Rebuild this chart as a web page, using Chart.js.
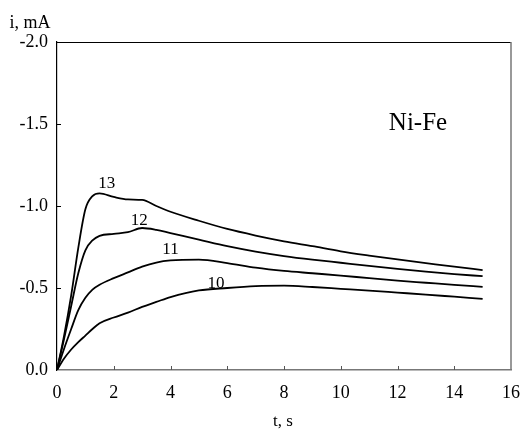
<!DOCTYPE html>
<html>
<head>
<meta charset="utf-8">
<script src="https://cdn.jsdelivr.net/npm/chart.js@4/dist/chart.umd.min.js"></script>
<style>
  html, body { margin: 0; padding: 0; background: #fff; }
  #wrap { width: 524px; height: 430px; }
</style>
</head>
<body>
<div id="wrap"><canvas id="chart" width="524" height="430"></canvas></div>
<script>
// time, s
const times = [0, 0.25, 0.5, 0.75, 1, 1.25, 1.5, 2, 2.5, 3, 3.5, 4, 5, 6, 7, 8, 9, 10, 11, 12, 13, 14, 15];

// current, mA (curves 10..13)
const curve10 = [0, -0.07, -0.125, -0.17, -0.21, -0.25, -0.285, -0.32, -0.35, -0.385, -0.415, -0.445, -0.485, -0.5, -0.511, -0.514, -0.506, -0.495, -0.484, -0.472, -0.46, -0.447, -0.434];
const curve11 = [0, -0.13, -0.25, -0.365, -0.44, -0.49, -0.52, -0.56, -0.595, -0.63, -0.655, -0.668, -0.673, -0.652, -0.624, -0.604, -0.59, -0.576, -0.56, -0.545, -0.532, -0.519, -0.507];
const curve12 = [0, -0.19, -0.39, -0.59, -0.73, -0.79, -0.818, -0.83, -0.84, -0.866, -0.855, -0.835, -0.795, -0.755, -0.722, -0.695, -0.673, -0.654, -0.635, -0.617, -0.6, -0.585, -0.572];
const curve13 = [0, -0.21, -0.455, -0.745, -0.98, -1.06, -1.077, -1.055, -1.04, -1.037, -1.0, -0.965, -0.91, -0.86, -0.82, -0.785, -0.755, -0.724, -0.698, -0.674, -0.652, -0.63, -0.609];

const xTicks = [0, 2, 4, 6, 8, 10, 12, 14, 16];
const yTicks = [-2.0, -1.5, -1.0, -0.5, 0.0];

const curveLabels = [
    { text: "13", x: 1.75, y: -1.14 },
    { text: "12", x: 2.9, y: -0.91 },
    { text: "11", x: 4.0, y: -0.735 },
    { text: "10", x: 5.6, y: -0.53 }
];

const serif = "'Liberation Serif', 'DejaVu Serif', serif";

const toPoints = (ys) => ys.map((y, i) => ({ x: times[i], y: y }));

const makeSet = (ys) => ({
    data: toPoints(ys),
    borderColor: "#000",
    borderWidth: 1.8,
    pointRadius: 0,
    fill: false,
    cubicInterpolationMode: "monotone"
});

// frame, inward ticks and text
const framePlugin = {
    id: "frame",
    afterDraw(chart) {
        const ctx = chart.ctx;
        const area = chart.chartArea;
        const xs = chart.scales.x;
        const ys = chart.scales.y;
        const right = xs.getPixelForValue(16);
        ctx.save();

        ctx.strokeStyle = "#000";
        ctx.lineWidth = 1;
        ctx.beginPath();
        ctx.moveTo(area.left, area.top + 0.5);
        ctx.lineTo(right, area.top + 0.5);
        ctx.stroke();

        ctx.strokeStyle = "#777";
        ctx.lineWidth = 1.5;
        ctx.beginPath();
        ctx.moveTo(right, area.top);
        ctx.lineTo(right, area.bottom);
        ctx.stroke();

        ctx.strokeStyle = "#555";
        ctx.lineWidth = 1;
        xTicks.slice(1, -1).forEach((t) => {
            const px = Math.round(xs.getPixelForValue(t)) + 0.5;
            ctx.beginPath();
            ctx.moveTo(px, area.bottom);
            ctx.lineTo(px, area.bottom - 4);
            ctx.stroke();
        });
        ctx.strokeStyle = "#000";
        yTicks.slice(1, -1).forEach((v) => {
            const py = Math.round(ys.getPixelForValue(v)) + 0.5;
            ctx.beginPath();
            ctx.moveTo(area.left, py);
            ctx.lineTo(area.left + 4, py);
            ctx.stroke();
        });

        ctx.fillStyle = "#000";
        ctx.textAlign = "center";
        ctx.textBaseline = "middle";
        ctx.font = "17px " + serif;
        curveLabels.forEach((l) => {
            ctx.fillText(l.text, xs.getPixelForValue(l.x), ys.getPixelForValue(l.y));
        });

        ctx.font = "18px " + serif;
        ctx.fillText("i, mA", 30, 23);
        ctx.font = "17px " + serif;
        ctx.fillText("t, s", 283, 422);

        ctx.font = "25px " + serif;
        ctx.fillText("Ni-Fe", 418, 123);
        ctx.restore();
    }
};

new Chart(document.getElementById("chart"), {
    type: "line",
    data: {
        datasets: [makeSet(curve10), makeSet(curve11), makeSet(curve12), makeSet(curve13)]
    },
    options: {
        responsive: false,
        animation: false,
        layout: { padding: { left: 0, top: 42, right: 13, bottom: 0 } },
        plugins: {
            legend: { display: false },
            tooltip: { enabled: false }
        },
        scales: {
            x: {
                type: "linear",
                min: 0,
                max: 16,
                afterFit: (scale) => {
                    scale.height = 60;
                    scale.paddingLeft = 0;
                    scale.paddingRight = 0;
                },
                afterBuildTicks: (scale) => { scale.ticks = xTicks.map((v) => ({ value: v })); },
                grid: { display: false, drawTicks: false },
                border: { display: true, color: "#777", width: 1.5 },
                ticks: {
                    color: "#000",
                    padding: 12,
                    font: { family: serif, size: 18 },
                    callback: (v) => String(v)
                }
            },
            y: {
                type: "linear",
                min: -2,
                max: 0,
                reverse: true,
                afterFit: (scale) => { scale.width = 57; },
                afterBuildTicks: (scale) => { scale.ticks = yTicks.map((v) => ({ value: v })); },
                grid: { display: false, drawTicks: false },
                border: { display: true, color: "#000", width: 1.2 },
                ticks: {
                    color: "#000",
                    padding: 9,
                    font: { family: serif, size: 18 },
                    callback: (v) => v.toFixed(1)
                }
            }
        }
    },
    plugins: [framePlugin]
});
</script>
</body>
</html>
